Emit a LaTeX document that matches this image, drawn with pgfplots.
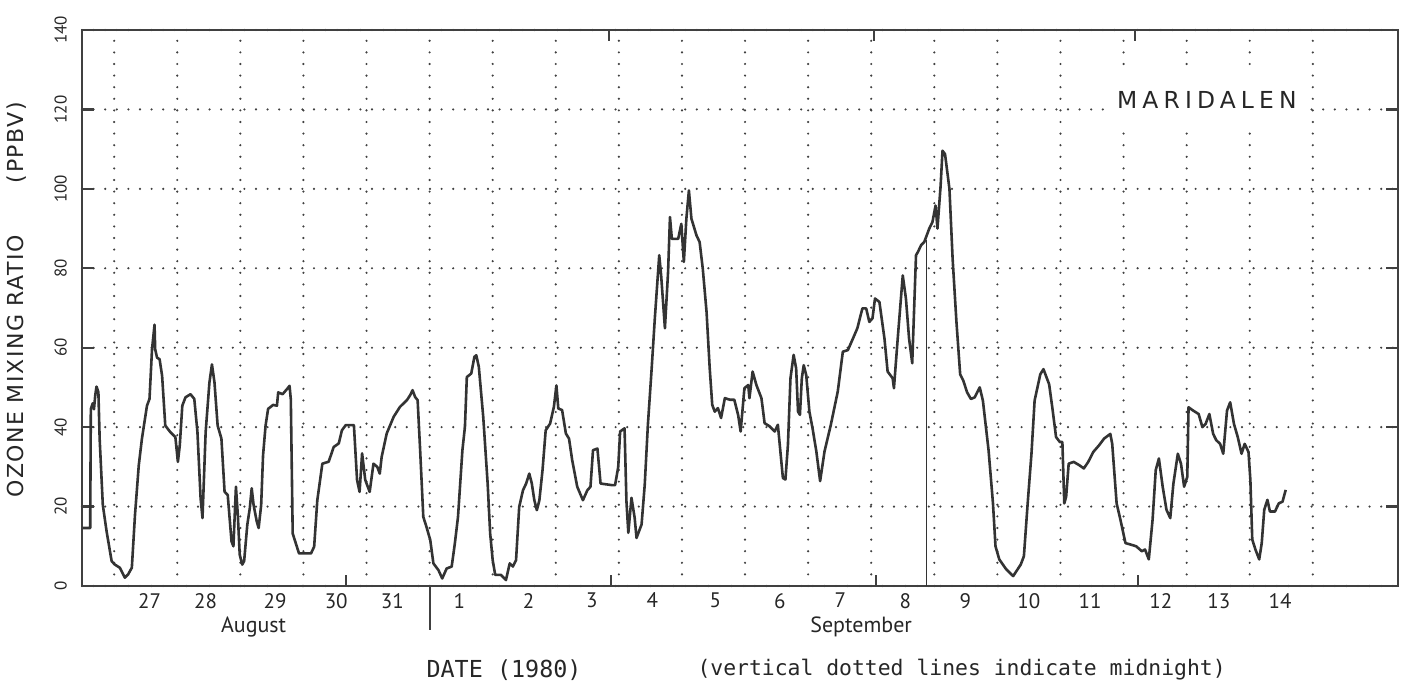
\documentclass[border=0pt]{standalone}
\usepackage{pgfplots}
\usepackage{pgfplotstable}
\pgfplotsset{compat=1.18}
\usepackage{fontspec}
\setmainfont{PT Sans}
\newfontfamily\monof{DejaVu Sans Mono}
\newfontfamily\djvsp[LetterSpace=7]{DejaVu Sans}
\newfontfamily\djvwide[LetterSpace=22]{DejaVu Sans}
\definecolor{ink}{HTML}{262626}
\definecolor{trace}{HTML}{333333}

\pgfplotstableread{
d v
26.50 14.6
26.62 14.6
26.63 44.6
26.66 46
26.68 44.5
26.70 48
26.72 50.2
26.75 48.8
26.77 37
26.82 20.4
26.88 13.75
26.96 6.25
27.01 5.4
27.09 4.6
27.17 2.1
27.22 2.9
27.28 4.6
27.33 17.9
27.39 30.4
27.44 37.1
27.52 45.4
27.56 47.1
27.60 59.6
27.64 65.8
27.65 59.6
27.68 57.5
27.72 57.1
27.76 52.9
27.81 40.4
27.89 38.75
27.97 37.5
28.01 31.25
28.04 35.4
28.08 45.4
28.13 47.5
28.21 48.3
28.27 47.1
28.32 38.75
28.37 22.1
28.40 17.1
28.45 38.75
28.51 51.25
28.55 55.8
28.59 51.25
28.64 40.4
28.70 37.1
28.75 23.75
28.80 22.9
28.86 11.25
28.89 10
28.93 25
28.96 17.9
28.99 7.9
29.03 5.4
29.06 6.25
29.11 15.4
29.15 19.6
29.18 24.6
29.21 20.4
29.26 16.25
29.29 14.6
29.33 20.4
29.36 32.9
29.40 40.4
29.44 44.6
29.52 45.6
29.58 45.4
29.60 48.75
29.67 48.3
29.74 49.6
29.78 50.4
29.80 47
29.83 13.2
29.88 10.7
29.93 8.2
30.12 8.2
30.17 9.9
30.22 21.6
30.30 30.8
30.40 31.3
30.48 35.0
30.56 35.9
30.61 39.2
30.67 40.5
30.80 40.5
30.85 26.7
30.89 23.7
30.93 33.4
30.98 26.7
31.05 23.7
31.11 30.8
31.17 30.0
31.21 28.3
31.24 32.5
31.32 38.4
31.43 42.6
31.53 45.1
31.64 46.8
31.69 48.0
31.73 49.3
31.77 47.6
31.81 46.8
31.85 34.2
31.90 17.4
31.95 14.9
32.01 11.6
32.06 5.7
32.14 4.0
32.20 1.9
32.27 4.4
32.35 4.9
32.40 10.7
32.45 17.4
32.52 34.2
32.56 40.1
32.59 52.6
32.66 53.5
32.71 57.7
32.74 58.1
32.78 55.2
32.85 42.6
32.92 25.8
32.96 13.2
33.00 6.5
33.04 2.8
33.13 2.8
33.21 1.5
33.27 5.7
33.32 4.9
33.37 6.5
33.42 19.9
33.48 24.1
33.53 25.8
33.58 28.3
33.62 25.8
33.66 21.6
33.70 19.1
33.74 21.6
33.79 29.2
33.84 39.2
33.91 40.9
33.97 45.1
34.01 50.5
34.04 44.7
34.10 44.3
34.16 38.4
34.21 37.1
34.26 31.7
34.34 25.0
34.43 21.6
34.50 24.1
34.55 25.0
34.59 34.2
34.66 34.6
34.71 25.8
34.89 25.4
34.94 25.4
34.99 30.0
35.02 38.9
35.09 39.7
35.12 21.3
35.15 13.4
35.20 22.2
35.25 17.2
35.28 12.1
35.36 15.5
35.41 25.5
35.46 40.6
35.52 54.8
35.57 67.4
35.64 83.3
35.67 78.2
35.73 64.9
35.78 79.1
35.81 92.9
35.84 87.4
35.94 87.4
35.99 91.2
36.03 81.6
36.07 92.5
36.11 99.6
36.15 92.5
36.23 88.3
36.28 86.6
36.33 79.9
36.39 69.0
36.44 54.8
36.48 45.6
36.52 43.9
36.57 44.8
36.62 42.3
36.68 47.3
36.76 46.9
36.83 46.9
36.89 43.1
36.93 38.9
36.99 49.8
37.05 50.6
37.07 47.3
37.12 54.0
37.18 50.6
37.26 47.3
37.31 41.0
37.39 40.2
37.47 38.9
37.52 40.6
37.56 33.9
37.60 27.2
37.64 26.8
37.68 35.6
37.72 52.3
37.77 58.2
37.81 54.8
37.84 43.9
37.87 43.1
37.90 52.3
37.93 55.6
37.97 53.1
38.02 43.9
38.07 39.7
38.13 33.9
38.19 26.4
38.26 33.9
38.36 40.6
38.47 49.0
38.55 59.0
38.63 59.4
38.71 62.3
38.78 64.9
38.86 69.9
38.92 69.9
38.97 66.5
39.02 67.4
39.06 72.4
39.13 71.5
39.21 62.3
39.26 54.0
39.34 52.3
39.36 49.8
39.42 62.3
39.50 78.2
39.55 72.4
39.60 62.3
39.65 56.1
39.71 83.3
39.74 84.1
39.79 85.8
39.84 86.6
39.92 90.0
39.97 91.6
40.02 95.8
40.05 90.0
40.10 100.8
40.13 109.6
40.17 108.75
40.24 100
40.29 82.5
40.35 66.7
40.41 53.3
40.46 51.7
40.52 48.75
40.58 47.1
40.64 47.5
40.72 50
40.77 46.7
40.86 34.2
40.93 20.8
40.97 10
41.03 6.7
41.14 4.2
41.25 2.5
41.37 5.4
41.42 7.5
41.48 20.8
41.54 33.3
41.59 46.7
41.68 53.3
41.73 54.6
41.82 50.8
41.87 45
41.93 37.5
41.99 36.25
42.03 36.25
42.06 20.8
42.09 22.5
42.13 30.8
42.21 31.25
42.30 30.4
42.37 29.6
42.44 31.25
42.52 33.75
42.61 35.4
42.69 37.1
42.79 38.3
42.82 35.8
42.89 20.8
42.95 16.7
43.03 10.8
43.12 10.4
43.20 10
43.29 8.75
43.34 9.2
43.40 6.7
43.46 16.7
43.51 29.2
43.56 32.1
43.62 25
43.68 19.2
43.74 17.1
43.79 25.8
43.86 33.3
43.91 30.8
43.96 25
44.01 27.5
44.03 45
44.10 44.2
44.19 43.3
44.25 40
44.30 40.8
44.36 43.3
44.42 38.3
44.47 36.7
44.53 35.8
44.58 33.3
44.64 44.2
44.69 46.25
44.75 40.8
44.81 37.5
44.87 33.3
44.92 35.8
44.98 33.75
45.01 26.7
45.04 11.7
45.09 9.2
45.15 6.7
45.19 10.8
45.23 19.2
45.28 21.7
45.32 18.75
45.40 18.75
45.46 20.8
45.52 21.25
45.57 24.2
}\ozone

\tikzset{dotgrid/.style={black!75, line width=1.2pt, line cap=round, dash pattern=on 0pt off 5.8pt}}

\begin{document}
\begin{tikzpicture}
\useasboundingbox (-41pt,-50pt) rectangle (661.5pt,293pt);
\begin{axis}[
  at={(0pt,0pt)}, anchor=south west,
  scale only axis, width=658pt, height=278pt,
  xmin=26.49, xmax=47.35, ymin=0, ymax=140,
  clip=false,
  axis line style={draw=black!75, line width=1pt},
  xtick={27.56,28.45,29.55,30.52,31.41,32.47,33.57,34.57,35.53,36.53,37.55,38.51,39.54,40.49,41.50,42.47,43.59,44.51,45.48},
  xticklabels={27,28,29,30,31,1,2,3,4,5,6,7,8,9,10,11,12,13,14},
  minor xtick={27,28,...,46},
  x tick style={draw=none},
  xminorgrids=true,
  minor x grid style={dotgrid},
  ytick={0,20,...,140},
  ymajorgrids=true,
  major y grid style={dotgrid},
  tick align=inside,
  major tick length=6pt,
  y tick style={draw=black!75, line width=1.2pt},
  ytick pos=both, yticklabel pos=left,
  xticklabel pos=bottom,
  /pgf/number format/assume math mode=true,
  xticklabel style={font=\fontsize{10.5}{12}\selectfont, text=ink},
  yticklabel style={font=\fontsize{8.5}{10}\selectfont, text=ink, rotate=90},
  yticklabel shift=4pt,
]
\addplot[trace, line width=1.3pt, line join=round] table[x=d, y=v] {\ozone};
\addplot[trace, line width=0.6pt] coordinates {(39.88,87) (39.88,0)};

\draw[black!75, line width=1pt] (axis cs:32,0) -- ++(0pt,-22pt);
\draw[black!75, line width=1pt] (axis cs:30.68,0) -- ++(0pt,5.5pt);
\draw[black!75, line width=1pt] (axis cs:34.88,0) -- ++(0pt,5.5pt);
\draw[black!75, line width=1pt] (axis cs:39.07,0) -- ++(0pt,5.5pt);
\draw[black!75, line width=1pt] (axis cs:43.23,0) -- ++(0pt,5.5pt);
\draw[black!75, line width=1pt] (axis cs:34.84,140) -- ++(0pt,-5.5pt);
\draw[black!75, line width=1pt] (axis cs:39.04,140) -- ++(0pt,-5.5pt);
\draw[black!75, line width=1pt] (axis cs:43.18,140) -- ++(0pt,-5.5pt);

\node[fill=white, inner xsep=6pt, inner ysep=9pt, text=ink,
  font=\djvwide\fontsize{11.7}{14}\selectfont] at (axis cs:44.32,122.5) {MARIDALEN};

\node[text=ink, font=\fontsize{11}{13}\selectfont] at ([yshift=-20.5pt]axis cs:29.21,0) {August};
\node[text=ink, font=\fontsize{11}{13}\selectfont] at ([yshift=-20.5pt]axis cs:38.84,0) {September};

\node[text=ink, font=\monof\fontsize{11.7}{14}\selectfont] at ([yshift=-42pt]axis cs:33.18,0) {DATE (1980)};
\node[anchor=west, inner sep=0pt, text=ink, font=\monof\fontsize{10.7}{13}\selectfont] at ([yshift=-42pt]axis cs:36.24,0) {(vertical dotted lines indicate midnight)};

\node[rotate=90, text=ink, font=\djvsp\fontsize{11}{13}\selectfont] at ([xshift=-32.5pt,yshift=143pt]rel axis cs:0,0) {OZONE MIXING RATIO\hspace{26pt}(PPBV)};
\end{axis}
\end{tikzpicture}
\end{document}
